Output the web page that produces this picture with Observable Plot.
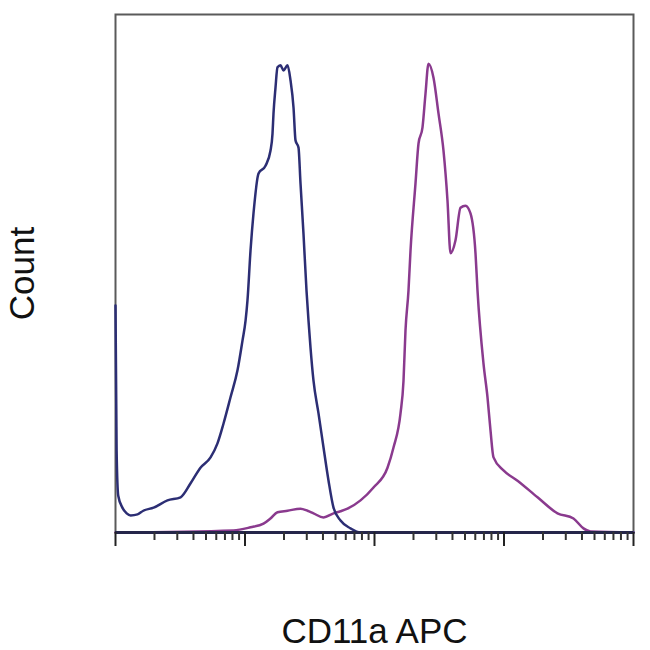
<!DOCTYPE html>
<html>
<head>
<meta charset="utf-8">
<script src="https://cdn.jsdelivr.net/npm/d3@7"></script>
<script src="https://cdn.jsdelivr.net/npm/@observablehq/plot@0.6"></script>
<style>
  html, body { margin: 0; padding: 0; background: #fff; }
</style>
</head>
<body>
<div id="chart"></div>
<script>
// Isotype control (blue) — intensity and count
const controlIntensity = [10, 10.2, 10.5, 11.3, 12.2, 13.1, 14.8, 16.4, 19.7, 25.2, 31.8, 38, 45.3, 54.2, 61.3, 68.2, 77.3, 87.5, 95.7, 101, 104.5, 110.3, 116.3, 127.2, 144, 157.3, 163.1, 166, 172, 178.2, 188, 198.3, 213, 224.6, 237, 245.5, 258.9, 268.3, 282.9, 298.5, 309.3, 320.5, 338, 369.5, 403.9, 441.6, 482.5, 546.5, 652.6, 779.8, 100000];
const controlCount = [43.8, 15.8, 7.1, 4.8, 3.7, 3.3, 3.5, 4.2, 4.8, 6.2, 6.8, 9.5, 12.5, 14.5, 17.2, 21.0, 26.1, 31.3, 37.1, 40.9, 44.8, 54.4, 61.6, 69.3, 70.8, 73.7, 77.0, 80.9, 85.9, 89.8, 90.2, 89.2, 90.2, 87.3, 82.0, 75.7, 74.3, 67.4, 57.7, 46.7, 40.9, 35.7, 29.3, 23.0, 16.4, 10.0, 4.8, 2.3, 0.8, 0, 0];

// CD11a APC stained (magenta) — intensity and count
const stainedIntensity = [10, 81.5, 110.3, 139, 157.3, 178.2, 213, 268.3, 303.8, 338, 403.9, 482.5, 546.5, 618.9, 779.8, 982.4, 1260, 1402, 1588, 1675, 1735, 1830, 1897, 2073, 2187, 2348, 2476, 2612, 2855, 3120, 3410, 3661, 3863, 4222, 4615, 5043, 5512, 6025, 6244, 6945, 7458, 7866, 8298, 9911, 12715, 18150, 25890, 34410, 41100, 46560, 100000];
const stainedCount = [0, 0.4, 1.0, 1.7, 2.7, 3.9, 4.2, 4.6, 4.2, 3.7, 2.9, 3.7, 4.1, 4.6, 6.2, 8.7, 12.5, 16.4, 23.0, 29.3, 39.0, 46.7, 54.4, 67.4, 75.1, 78.2, 84.7, 90.5, 87.8, 80.9, 73.7, 64.1, 53.9, 56.4, 62.7, 63.1, 61.6, 53.9, 46.7, 32.6, 26.1, 19.7, 14.5, 12.0, 10.0, 6.8, 3.7, 2.7, 0.8, 0.2, 0];

// Axis ticks (log decades)
const majorTicks = [1e1, 1e2, 1e3, 1e4, 1e5];
const minorMultipliers = [2, 3, 4, 5, 6, 7, 8, 9];
const xLabel = "CD11a APC";
const yLabel = "Count";

const control = controlIntensity.map((x, i) => ({x, y: controlCount[i]}));
const stained = stainedIntensity.map((x, i) => ({x, y: stainedCount[i]}));
const minorTicks = majorTicks.slice(0, -1).flatMap(d => minorMultipliers.map(m => d * m));

const chart = Plot.plot({
  width: 650,
  height: 650,
  marginLeft: 115,
  marginRight: 17,
  marginTop: 14,
  marginBottom: 118,
  style: {fontFamily: "'Liberation Sans', Arial, sans-serif", fontSize: "35px", background: "#fff"},
  x: {type: "log", domain: [10, 100000], label: null},
  y: {domain: [0, 100], label: null, axis: null},
  marks: [
    Plot.frame({stroke: "#5a5a5a", strokeWidth: 2}),
    Plot.line(stained, {x: "x", y: "y", stroke: "#8a3a8e", strokeWidth: 2.5, curve: "monotone-x"}),
    Plot.line(control, {x: "x", y: "y", stroke: "#2c2e74", strokeWidth: 2.5, curve: "monotone-x"}),
    Plot.ruleY([0], {stroke: "#25264a", strokeWidth: 3}),
    Plot.axisX({ticks: minorTicks, tickSize: 8, tickFormat: () => "", stroke: "#333", strokeWidth: 2, label: null}),
    Plot.axisX({ticks: majorTicks, tickSize: 14, tickFormat: () => "", stroke: "#222", strokeWidth: 2, label: null}),
    Plot.text([xLabel], {frameAnchor: "bottom", lineAnchor: "bottom", textAnchor: "middle", dy: 110, fill: "#111"}),
    Plot.text([yLabel], {frameAnchor: "left", rotate: -90, lineAnchor: "top", textAnchor: "middle", dx: -106, fill: "#111"})
  ]
});
document.getElementById("chart").appendChild(chart);
</script>
</body>
</html>
